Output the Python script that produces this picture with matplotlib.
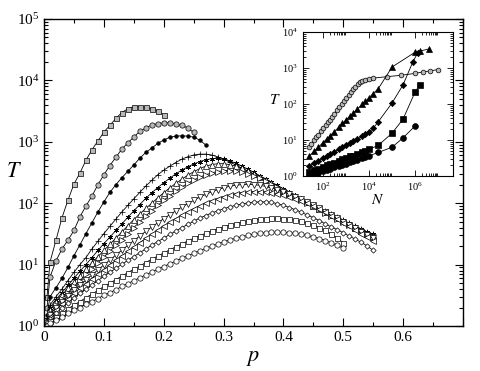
import numpy as np
import matplotlib
matplotlib.use("Agg")
import matplotlib.pyplot as plt
from matplotlib.ticker import LogLocator, MultipleLocator, NullFormatter, LogFormatterSciNotation, FixedLocator

plt.rcParams["font.family"] = "serif"
plt.rcParams["font.serif"] = ["Liberation Serif", "DejaVu Serif"]
plt.rcParams["mathtext.fontset"] = "stix"

# ---- main panel data: T(p) for the different system sizes ----
P_GRID = [0.005, 0.01, 0.02, 0.03, 0.04, 0.05, 0.06, 0.07, 0.08, 0.09,
          0.10, 0.11, 0.12, 0.13, 0.14, 0.15, 0.16, 0.17, 0.18, 0.19,
          0.20, 0.21, 0.22, 0.23, 0.24, 0.25, 0.26, 0.27, 0.28, 0.29,
          0.30, 0.31, 0.32, 0.33, 0.34, 0.35, 0.36, 0.37, 0.38, 0.39,
          0.40, 0.41, 0.42, 0.43, 0.44, 0.45, 0.46, 0.47, 0.48, 0.49,
          0.50, 0.51, 0.52, 0.53, 0.54, 0.55]

t_sq_gray = [3, 11, 25, 58, 112, 205, 310, 500, 740, 1030, 1440, 1850, 2400, 3000, 3450,
             3750, 3750, 3650, 3450, 3200, 2750]
t_ci_gray = [2, 6.3, 11.5, 18, 25, 36, 60, 90, 130, 200, 290, 410, 560, 760, 960, 1200,
             1480, 1680, 1880, 1980, 2030, 2030, 1950, 1850, 1680, 1420]
t_dot = [1.5, 3, 4.2, 6, 9, 14, 21, 32, 48, 72, 105, 150, 200, 260, 330, 420, 540, 670,
         790, 940, 1070, 1180, 1240, 1250, 1240, 1190, 1070, 890]
t_plus = [1.3, 2.2, 3, 4, 5.5, 7.5, 10, 13, 18, 24, 32, 42, 55, 72, 92, 118, 150, 190, 235,
          290, 345, 400, 460, 520, 570, 610, 630, 630, 610, 570, 520, 470, 420, 375, 335,
          300, 265, 235, 208, 185, 165, 147, 131, 117, 104, 93, 83, 74, 66, 59, 53, 47, 42,
          38, 34, 31]
t_star = [1.3, 2, 2.7, 3.5, 4.6, 6, 7.8, 10, 13, 17, 22, 28, 36, 46, 59, 75, 95, 120, 148,
          180, 215, 255, 300, 345, 390, 435, 475, 510, 530, 535, 520, 490, 450, 405, 360,
          320, 282, 250, 220, 195, 172, 152, 135, 120, 106, 94, 84, 75, 67, 60, 53, 47, 42,
          38, 34, 31]
t_tri_up = [1.2, 1.8, 2.5, 3.2, 4.1, 5.2, 6.6, 8.4, 10.7, 13.5, 17, 21.5, 27, 34, 43, 54,
            67, 82, 100, 122, 148, 178, 210, 245, 285, 325, 365, 400, 425, 440, 440, 425,
            400, 370, 335, 300, 268, 238, 211, 187, 166, 147, 130, 116, 103, 91, 81, 72, 64,
            57, 51, 45, 40, 36, 32, 29]
t_tri_right = [1.2, 1.6, 2.2, 2.8, 3.5, 4.4, 5.5, 6.9, 8.6, 10.7, 13.3, 16.5, 20.5, 25.5,
               32, 40, 50, 62, 76, 92, 111, 133, 157, 183, 210, 238, 265, 290, 312, 328,
               338, 340, 335, 322, 303, 280, 256, 232, 208, 186, 165, 146, 129, 114, 101,
               89, 79, 70, 62, 55, 49, 44, 39, 35, 31, 28]
t_tri_down = [1.1, 1.5, 2.0, 2.5, 3.1, 3.8, 4.6, 5.6, 6.8, 8.2, 9.9, 11.9, 14.3, 17.2, 20.6,
              24.6, 29.3, 34.8, 41, 48, 56, 65, 75, 86, 98, 111, 125, 139, 153, 166, 178,
              188, 196, 201, 203, 201, 196, 188, 178, 166, 154, 141, 128, 115, 103, 92, 82,
              73, 64, 57, 50, 44, 39, 34, 30, 27]
t_tri_left = [1.1, 1.4, 1.8, 2.3, 2.8, 3.4, 4.1, 4.9, 5.9, 7.0, 8.3, 9.9, 11.7, 13.9, 16.4,
              19.4, 22.8, 26.8, 31.4, 36.6, 42.5, 49, 56, 64, 72, 81, 90, 100, 110, 119, 128,
              136, 143, 149, 153, 155, 155, 153, 149, 143, 136, 128, 119, 110, 100, 90, 80,
              71, 63, 55, 48, 42, 37, 32, 28, 24]
t_diamond = [1.1, 1.3, 1.6, 2.0, 2.4, 2.9, 3.4, 4.0, 4.7, 5.5, 6.4, 7.5, 8.7, 10.1, 11.7,
             13.5, 15.6, 18, 20.7, 23.7, 27, 31, 35, 40, 45, 51, 57, 63, 69, 75, 81, 87, 92,
             97, 101, 104, 105, 105, 103, 98, 92, 85, 78, 71, 64, 58, 52, 46, 41, 37, 33, 29,
             26, 23, 20, 17]
t_sq_open = [1.05, 1.2, 1.4, 1.6, 1.9, 2.2, 2.5, 2.9, 3.3, 3.8, 4.4, 5.0, 5.7, 6.5, 7.4, 8.4,
             9.5, 10.8, 12.2, 13.8, 15.5, 17.4, 19.5, 21.8, 24.2, 26.8, 29.5, 32.3, 35.2,
             38.1, 41, 43.8, 46.5, 49, 51.3, 53.3, 55, 56.3, 57, 57, 56.3, 55, 53, 50.5, 47.5,
             44, 40, 36, 31.5, 27, 22.5]
t_ci_open = [1.0, 1.1, 1.25, 1.4, 1.6, 1.8, 2.0, 2.25, 2.5, 2.8, 3.15, 3.5, 3.9, 4.4, 4.9,
             5.5, 6.1, 6.8, 7.6, 8.4, 9.3, 10.3, 11.4, 12.6, 13.9, 15.3, 16.8, 18.4, 20, 21.7,
             23.4, 25.1, 26.8, 28.4, 29.9, 31.2, 32.3, 33.1, 33.6, 33.8, 33.6, 33.1, 32.3,
             31.2, 29.8, 28.2, 26.5, 24.6, 22.6, 20.5, 18.5]

# ---- inset data: T(N) ----
n_gray = [25, 30, 40, 50, 60, 80, 100, 130, 160, 200, 250, 300, 400, 500, 650, 800, 1000,
          1300, 1600, 2000, 2500, 3200, 4000, 5000, 7000, 1e4, 1.5e4, 6e4, 2.5e5, 1e6,
          2.2e6, 4.5e6, 1e7]
t_gray = [6.5, 7.7, 9.8, 11.8, 13.8, 17.5, 21, 26, 31, 37, 45, 53, 67, 81, 100, 120, 145,
          178, 215, 257, 300, 355, 400, 440, 480, 500, 525, 575, 630, 710, 780, 830, 910]
n_tri = [25, 40, 60, 100, 150, 200, 300, 500, 700, 1000, 1500, 2000, 3000, 5000, 7000, 1e4,
         1.5e4, 2.5e4, 1e5, 1e6, 1.6e6, 4e6]
t_tri = [3.6, 4.8, 6.2, 8.5, 11, 13, 17, 23, 29, 36, 47, 55, 71, 98, 120, 150, 195, 265,
         1070, 2750, 2950, 3400]
n_dia = [25, 40, 60, 100, 150, 200, 300, 500, 700, 1000, 1500, 2000, 3000, 5000, 7000, 1e4,
         1.5e4, 2.5e4, 1e5, 3e5, 8e5, 1.3e6]
t_dia = [1.9, 2.25, 2.6, 3.2, 3.6, 4.0, 4.7, 5.5, 6.3, 7.1, 8.3, 9.2, 10.5, 12.6, 14.5,
         16.6, 21, 32, 107, 340, 1480, 2630]
n_sq = [25, 40, 60, 100, 150, 200, 300, 500, 700, 1000, 1500, 2000, 3000, 5000, 7000, 1e4,
        2.5e4, 1e5, 3e5, 1e6, 1.6e6]
t_sq = [1.3, 1.45, 1.6, 1.8, 2.0, 2.1, 2.35, 2.65, 2.9, 3.15, 3.5, 3.7, 4.1, 4.6, 5.0, 5.5,
        7.1, 15.5, 38, 215, 340]
n_ci = [25, 40, 60, 100, 150, 200, 300, 500, 700, 1000, 1500, 2000, 3000, 5000, 7000, 1e4,
        2.5e4, 1e5, 3e5, 1e6]
t_ci = [1.0, 1.12, 1.2, 1.35, 1.48, 1.58, 1.73, 1.9, 2.05, 2.2, 2.45, 2.6, 2.8, 3.15, 3.4,
        3.65, 4.5, 6.3, 11.5, 24.5]

GRAY = "#b8b8b8"

fig = plt.figure(figsize=(4.8, 3.71), dpi=100)
ax = fig.add_axes([0.0917, 0.1213, 0.873, 0.8275])

main_series = [
    (t_sq_gray, dict(marker="s", ms=3.6, mfc=GRAY)),
    (t_ci_gray, dict(marker="o", ms=3.8, mfc=GRAY)),
    (t_dot, dict(marker="o", ms=2.6, mfc="black")),
    (t_plus, dict(marker="+", ms=4.0)),
    (t_star, dict(marker=(6, 2, 0), ms=3.6)),
    (t_tri_up, dict(marker="^", ms=3.8, mfc="white")),
    (t_tri_right, dict(marker=">", ms=3.8, mfc="white")),
    (t_tri_down, dict(marker="v", ms=3.8, mfc="white")),
    (t_tri_left, dict(marker="<", ms=3.8, mfc="white")),
    (t_diamond, dict(marker="D", ms=2.7, mfc="white")),
    (t_sq_open, dict(marker="s", ms=3.6, mfc="white")),
    (t_ci_open, dict(marker="o", ms=3.8, mfc="white")),
]
for vals, style in main_series:
    ax.plot(P_GRID[:len(vals)], vals, color="black", lw=0.6, mec="black", mew=0.5, **style)

ax.set_yscale("log")
ax.set_xlim(0, 0.7)
ax.set_ylim(1, 1e5)
ax.xaxis.set_major_locator(MultipleLocator(0.1))
ax.xaxis.set_minor_locator(MultipleLocator(0.05))
ax.xaxis.set_major_formatter(matplotlib.ticker.FuncFormatter(
    lambda v, _: "0" if abs(v) < 1e-9 else ("%.1f" % v if v < 0.65 else "")))
ax.yaxis.set_major_locator(LogLocator(base=10, numticks=10))
ax.yaxis.set_minor_locator(LogLocator(base=10, subs=np.arange(2, 10), numticks=20))
ax.yaxis.set_minor_formatter(NullFormatter())
ax.tick_params(which="both", direction="in", top=True, right=True, labelsize=11, width=0.8)
ax.tick_params(which="major", length=6)
ax.tick_params(which="minor", length=3)
for s in ax.spines.values():
    s.set_linewidth(1.0)
ax.set_xlabel("$p$", fontsize=16, labelpad=4)
ax.set_ylabel("$T$", fontsize=16, rotation=0)
ax.yaxis.set_label_coords(-0.072, 0.47)

# ---- inset ----
ins = fig.add_axes([0.6313, 0.5256, 0.3125, 0.388])
inset_series = [
    (n_gray, t_gray, dict(marker="o", ms=3.4, mfc=GRAY)),
    (n_tri, t_tri, dict(marker="^", ms=4.2, mfc="black")),
    (n_dia, t_dia, dict(marker="D", ms=3.2, mfc="black")),
    (n_sq, t_sq, dict(marker="s", ms=3.8, mfc="black")),
    (n_ci, t_ci, dict(marker="o", ms=4.2, mfc="black")),
]
for nn, tt, style in inset_series:
    ins.plot(nn, tt, color="black", lw=0.6, mec="black", mew=0.5, **style)

ins.set_xscale("log")
ins.set_yscale("log")
ins.set_xlim(10 ** 1.13, 10 ** 7.65)
ins.set_ylim(1, 1e4)
ins.xaxis.set_major_locator(FixedLocator([1e2, 1e4, 1e6]))
ins.xaxis.set_major_formatter(LogFormatterSciNotation())
ins.xaxis.set_minor_locator(FixedLocator([k * 10.0 ** e for e in (2, 4, 6) for k in range(2, 10)]))
ins.xaxis.set_minor_formatter(NullFormatter())
ins.yaxis.set_major_locator(LogLocator(base=10, numticks=10))
ins.yaxis.set_minor_locator(LogLocator(base=10, subs=np.arange(2, 10), numticks=20))
ins.yaxis.set_minor_formatter(NullFormatter())
ins.tick_params(which="both", direction="in", top=True, right=True, labelsize=7.5, width=0.6)
ins.tick_params(which="major", length=4)
ins.tick_params(which="minor", length=2)
ins.set_xlabel("$N$", fontsize=11, labelpad=0)
ins.set_ylabel("$T$", fontsize=11, rotation=0)
ins.yaxis.set_label_coords(-0.19, 0.48)

fig.savefig("out.png", dpi=100)
